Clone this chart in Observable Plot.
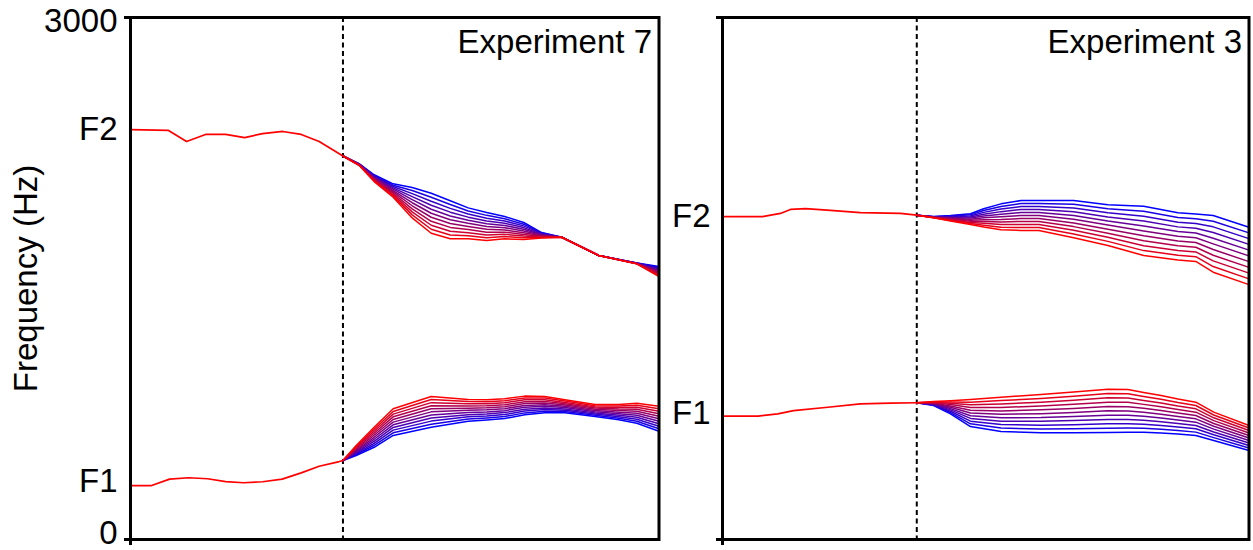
<!DOCTYPE html>
<html><head><meta charset="utf-8">
<script src="https://cdn.jsdelivr.net/npm/d3@7"></script>
<script src="https://cdn.jsdelivr.net/npm/@observablehq/plot@0.6"></script>
<style>
body{margin:0;background:#fff;}
#wrap{display:flex;width:1253px;height:550px;overflow:hidden;}
#wrap svg{display:block;flex:none;}
</style></head><body><div id="wrap"></div>
<script>
// ---------- data (time in % of trial, frequency in Hz) ----------
const yLabel = "Frequency (Hz)";
const titles = ["Experiment 7", "Experiment 3"];
const steps = [0, 1, 2, 3, 4, 5, 6, 7, 8, 9, 10];   // blue (0) ... red (10)

// Experiment 7 (left)
const e7Onset = 40.2;
const e7TickHz = [3000, 2350, 310, 0];
const e7TickLabels = ["3000", "F2", "F1", "0"];
const e7F2PreT = [0, 7.2, 10.6, 14.2, 18.0, 21.6, 25.0, 28.8, 32.3, 35.7, 40.2];
const e7F2PreHz = [2356, 2351, 2287, 2328, 2328, 2310, 2333, 2345, 2328, 2287, 2204];
const e7F1PreT = [0, 4.0, 7.4, 11.0, 14.6, 18.0, 21.4, 25.0, 28.7, 32.3, 35.7, 39.5, 40.2];
const e7F1PreHz = [310, 310, 347, 355, 349, 333, 326, 332, 347, 383, 421, 448, 454];
const e7F2PostT = [40.2, 43.3, 46.1, 49.7, 53.3, 56.9, 60.5, 63.9, 67.4, 70.8, 74.4, 77.8, 81.6, 88.6, 95.8, 100];
const e7F2PostBlueHz = [2204, 2159, 2096, 2044, 2023, 1990, 1947, 1906, 1879, 1856, 1822, 1764, 1737, 1632, 1589, 1569];
const e7F2PostRedHz = [2204, 2149, 2057, 1967, 1848, 1760, 1728, 1728, 1718, 1728, 1724, 1733, 1737, 1632, 1584, 1511];
const e7F1PostT = [40.2, 42.7, 46.1, 49.7, 56.9, 63.9, 67.4, 70.8, 74.6, 78.4, 82.2, 87.9, 92.4, 95.8, 100];
const e7F1PostBlueHz = [454, 483, 530, 598, 645, 680, 687, 695, 717, 728, 728, 707, 688, 668, 622];
const e7F1PostRedHz = [454, 540, 645, 751, 822, 805, 803, 809, 824, 822, 803, 776, 776, 783, 766];

// Experiment 3 (right)
const e3Onset = 36.9;
const e3TickHz = [1856, 709];
const e3TickLabels = ["F2", "F1"];
const e3F2PreT = [0, 7.6, 11.0, 12.9, 15.8, 20.5, 26.2, 33.8, 36.9];
const e3F2PreHz = [1856, 1856, 1874, 1897, 1902, 1891, 1879, 1874, 1864];
const e3F1PreT = [0, 6.8, 10.5, 13.5, 20.0, 26.2, 31.9, 36.9];
const e3F1PreHz = [709, 709, 722, 741, 760, 780, 784, 786];
const e3F2PostT = [36.9, 40.1, 43.3, 47.1, 49.6, 52.9, 56.7, 60.1, 66.7, 73.2, 80.0, 86.5, 89.9, 93.2, 100];
const e3F2PostBlueHz = [1864, 1856, 1862, 1872, 1901, 1929, 1948, 1948, 1948, 1924, 1915, 1878, 1871, 1862, 1795];
const e3F2PostRedHz = [1864, 1849, 1830, 1810, 1796, 1780, 1776, 1776, 1734, 1690, 1632, 1607, 1598, 1536, 1465];
const e3F1PostT = [36.9, 40.1, 43.3, 47.1, 52.9, 60.5, 66.7, 73.2, 77.0, 80.0, 83.3, 86.5, 89.9, 93.3, 100];
const e3F1PostBlueHz = [786, 770, 722, 649, 621, 613, 613, 615, 616, 617, 612, 607, 598, 569, 511];
const e3F1PostRedHz = [786, 793, 798, 805, 818, 833, 847, 864, 862, 845, 828, 807, 789, 732, 655];

// ---------- helpers ----------
function pre(key, T, H) { return T.map((t, i) => ({key, t, hz: H[i]})); }
function fan(key, T, blue, red) {
  const out = [];
  for (const s of steps) T.forEach((t, i) => out.push({key: key + "-" + s, step: s, t, hz: blue[i] + (red[i] - blue[i]) * s / steps[steps.length - 1]}));
  return out;
}
const FONT = 33;

function panel({width, marginLeft, marginRight, onset, preData, fanData, ticks, labels, labelDy, pad, title, withYLabel}) {
  const labelMarks = ticks.map((v, i) => Plot.text([{hz: v, label: labels[i]}], {
    y: "hz", text: "label", frameAnchor: "left", textAnchor: "end", lineAnchor: "middle",
    dx: -pad, dy: labelDy[i], fontSize: FONT, fill: "black"
  }));
  const marks = [
    Plot.ruleX([onset], {stroke: "black", strokeWidth: 2, strokeDasharray: "5,3.5"}),
    Plot.line(preData, {x: "t", y: "hz", z: "key", stroke: "#ff0000", strokeWidth: 1.7}),
    Plot.line(fanData, {x: "t", y: "hz", z: "key", stroke: "step", strokeWidth: 1.5}),
    Plot.frame({stroke: "black", strokeWidth: 3}),
    Plot.axisY({ticks: [0, 3000], tickSize: 6, tickFormat: () => "", strokeWidth: 3, label: null}),
    Plot.axisX({ticks: [0], tickSize: 6, tickFormat: () => "", strokeWidth: 3, label: null}),
    ...labelMarks,
    Plot.text([title], {text: d => d, frameAnchor: "top-right", textAnchor: "end", lineAnchor: "middle", dx: -7, dy: 25, fontSize: FONT, fill: "black"})
  ];
  if (withYLabel) marks.push(Plot.text([yLabel], {text: d => d, frameAnchor: "left", rotate: -90, textAnchor: "middle", lineAnchor: "middle", dx: -104, fontSize: FONT, fill: "black"}));
  return Plot.plot({
    width, height: 550, marginLeft, marginRight, marginTop: 17, marginBottom: 11,
    x: {domain: [0, 100]},
    y: {domain: [0, 3000]},
    color: {type: "linear", domain: [steps[0], steps[steps.length - 1]], range: ["#0000ff", "#ff0000"], interpolate: "rgb"},
    style: {background: "white", color: "black", fontFamily: "'Liberation Sans', Arial, Helvetica, sans-serif", overflow: "visible"},
    marks
  });
}

const left = panel({
  width: 662, marginLeft: 130, marginRight: 3.5, onset: e7Onset,
  preData: [...pre("F2", e7F2PreT, e7F2PreHz), ...pre("F1", e7F1PreT, e7F1PreHz)],
  fanData: [...fan("F2", e7F2PostT, e7F2PostBlueHz, e7F2PostRedHz), ...fan("F1", e7F1PostT, e7F1PostBlueHz, e7F1PostRedHz)],
  ticks: e7TickHz, labels: e7TickLabels, labelDy: [4, -1, -4, -6], pad: 13,
  title: titles[0], withYLabel: true
});
const right = panel({
  width: 591, marginLeft: 60, marginRight: 4.5, onset: e3Onset,
  preData: [...pre("F2", e3F2PreT, e3F2PreHz), ...pre("F1", e3F1PreT, e3F1PreHz)],
  fanData: [...fan("F2", e3F2PostT, e3F2PostBlueHz, e3F2PostRedHz), ...fan("F1", e3F1PostT, e3F1PostBlueHz, e3F1PostRedHz)],
  ticks: e3TickHz, labels: e3TickLabels, labelDy: [0, -3], pad: 12,
  title: titles[1], withYLabel: false
});
document.getElementById("wrap").append(left, right);
</script></body></html>
